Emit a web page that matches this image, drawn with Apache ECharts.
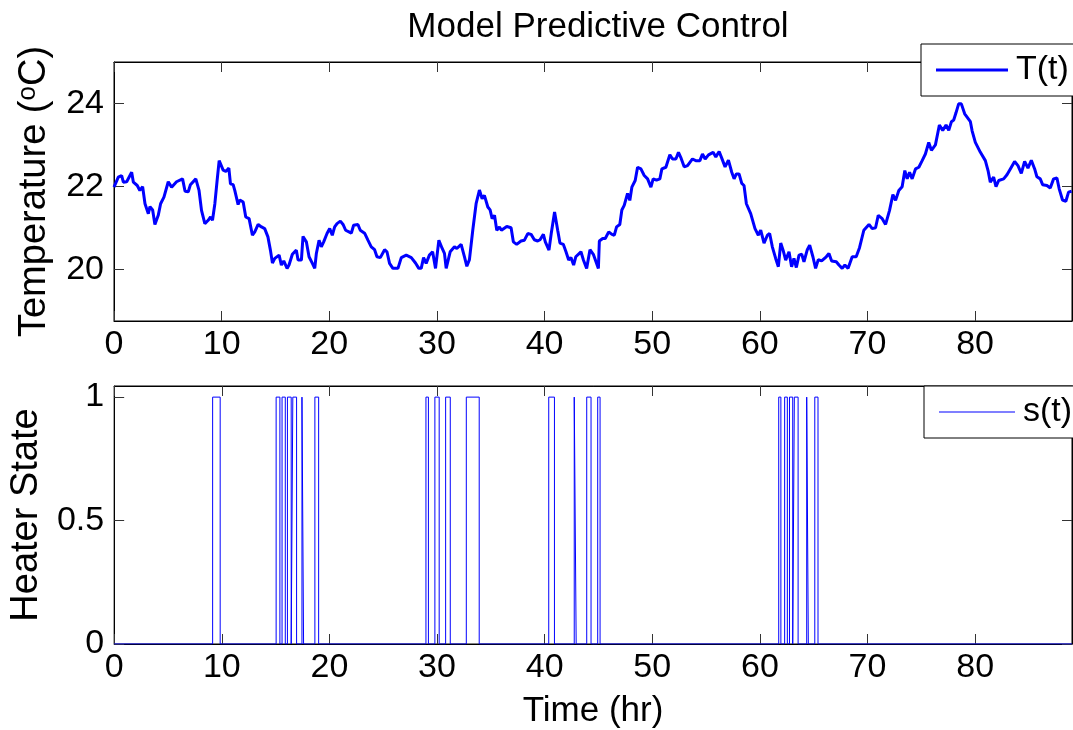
<!DOCTYPE html>
<html>
<head>
<meta charset="utf-8">
<title>Model Predictive Control</title>
<script src="https://cdn.jsdelivr.net/npm/echarts@6/dist/echarts.min.js"></script>
<style>
    html, body { margin: 0; padding: 0; background: #fff; }
    #chart-container { width: 1073px; height: 730px; }
</style>
</head>
<body>
<div id="chart-container"></div>
<script>
// temperature trace T(t), hours / deg C
const tempTime = [
    0, 0.4, 0.71, 0.87, 1.18, 1.64, 1.8, 2.16, 2.4, 2.66, 2.88, 3.19, 3.34, 3.59, 3.8, 4.11, 4.33, 4.64, 5.04, 5.35,
    5.81, 6.37, 6.6, 6.9, 7.1, 7.6, 7.9, 8.13, 8.44, 8.75, 8.97, 9.15, 9.37, 9.58, 9.77, 10.14, 10.39, 10.67, 10.82, 11.07,
    11.22, 11.53, 11.69, 12.0, 12.24, 12.55, 12.86, 13.08, 13.39, 13.7, 14.0, 14.3, 14.53, 14.72, 14.94, 15.09, 15.34, 15.55, 15.77, 16.08,
    16.26, 16.57, 16.94, 17.1, 17.41, 17.56, 17.87, 18.12, 18.43, 18.65, 18.8, 19.05, 19.26, 19.48, 19.79, 20.04, 20.28, 20.5, 20.72, 21.03,
    21.28, 21.52, 21.83, 22.05, 22.26, 22.66, 22.88, 23.28, 23.59, 23.9, 24.21, 24.43, 24.74, 24.92, 25.14, 25.36, 25.6, 25.91, 26.38, 26.69,
    27.15, 27.62, 28.01, 28.32, 28.54, 28.76, 29.0, 29.3, 29.6, 29.87, 30.18, 30.49, 30.7, 30.86, 31.23, 31.63, 31.85, 32.25, 32.56, 32.78,
    33.02, 33.33, 33.64, 33.95, 34.2, 34.41, 34.73, 34.94, 35.13, 35.35, 35.56, 35.81, 35.99, 36.49, 36.89, 37.1, 37.41, 37.81, 38.13, 38.44,
    38.75, 39.05, 39.36, 39.58, 39.89, 40.07, 40.41, 40.62, 40.93, 41.22, 41.43, 41.74, 41.99, 42.24, 42.45, 42.7, 42.9, 43.38, 43.6, 43.91,
    44.22, 44.53, 45.0, 45.09, 45.4, 45.64, 45.96, 46.26, 46.48, 46.69, 46.99, 47.18, 47.4, 47.71, 47.92, 48.11, 48.42, 48.64, 48.95, 49.26,
    49.57, 49.88, 50.09, 50.4, 50.71, 50.9, 51.27, 51.64, 51.89, 52.2, 52.44, 52.65, 52.97, 53.28, 53.74, 54.05, 54.43, 54.67, 54.92, 55.23,
    55.66, 55.91, 56.22, 56.46, 56.77, 57.08, 57.39, 57.61, 57.82, 58.07, 58.32, 58.53, 58.75, 59.15, 59.55, 59.86, 60.08, 60.39, 60.7, 60.91,
    61.16, 61.47, 61.72, 61.94, 62.16, 62.4, 62.71, 62.95, 63.17, 63.39, 63.64, 63.89, 64.1, 64.41, 64.63, 64.93, 65.18, 65.43, 65.74, 66.17,
    66.42, 66.67, 67.1, 67.35, 67.65, 67.9, 68.2, 68.58, 68.95, 69.26, 69.66, 70.14, 70.44, 70.75, 71.0, 71.37, 71.68, 72.05, 72.36, 72.61,
    72.91, 73.22, 73.47, 73.69, 73.91, 74.15, 74.46, 74.77, 75.08, 75.38, 75.69, 75.94, 76.31, 76.68, 76.99, 77.3, 77.55, 77.8, 78.01, 78.23,
    78.47, 78.72, 79.03, 79.56, 79.72, 80.02, 80.49, 80.95, 81.2, 81.41, 81.72, 81.94, 82.19, 82.65, 82.96, 83.27, 83.67, 83.98, 84.29, 84.6,
    84.91, 85.22, 85.53, 85.74, 86.05, 86.27, 86.67, 86.98, 87.29, 87.6, 87.81, 88.12, 88.43, 88.68, 88.96
];
const tempValue = [
    21.98, 22.22, 22.26, 22.1, 22.11, 22.34, 22.1, 22.02, 21.9, 21.99, 21.58, 21.34, 21.51, 21.43, 21.08, 21.3, 21.58, 21.74, 22.11, 21.98,
    22.11, 22.18, 21.88, 21.87, 22.04, 22.18, 21.9, 21.42, 21.1, 21.18, 21.26, 21.18, 21.58, 22.14, 22.62, 22.39, 22.36, 22.44, 22.06, 22.04,
    21.9, 21.56, 21.67, 21.62, 21.26, 21.22, 20.82, 20.9, 21.08, 21.02, 20.98, 20.78, 20.46, 20.15, 20.26, 20.22, 20.34, 20.1, 20.2, 20.02,
    20.1, 20.36, 20.46, 20.22, 20.22, 20.79, 20.66, 20.3, 20.14, 20.02, 20.38, 20.7, 20.54, 20.66, 20.86, 20.98, 20.82, 21.02, 21.1, 21.16,
    21.08, 20.94, 20.9, 20.87, 21.06, 21.08, 20.94, 20.87, 20.7, 20.54, 20.47, 20.3, 20.28, 20.26, 20.47, 20.42, 20.14, 20.02, 20.02, 20.28,
    20.34, 20.28, 20.15, 20.02, 20.02, 20.28, 20.14, 20.34, 20.42, 20.02, 20.7, 20.5, 20.38, 20.02, 20.42, 20.54, 20.5, 20.6, 20.3, 20.07,
    20.23, 20.94, 21.58, 21.91, 21.7, 21.78, 21.5, 21.43, 21.22, 21.3, 20.94, 21.02, 20.94, 21.03, 21.0, 20.66, 20.6, 20.68, 20.7, 20.86,
    20.84, 20.71, 20.68, 20.71, 20.84, 20.66, 20.46, 20.86, 21.38, 20.94, 20.63, 20.6, 20.42, 20.22, 20.28, 20.1, 20.3, 20.42, 20.23, 20.02,
    20.47, 20.36, 20.02, 20.68, 20.74, 20.74, 20.9, 20.84, 20.82, 21.02, 21.08, 21.43, 21.54, 21.83, 21.66, 21.98, 22.14, 22.46, 22.42, 22.26,
    22.18, 21.98, 22.18, 22.15, 22.18, 22.42, 22.46, 22.76, 22.66, 22.66, 22.82, 22.7, 22.47, 22.5, 22.66, 22.62, 22.62, 22.78, 22.66, 22.76,
    22.82, 22.71, 22.84, 22.68, 22.47, 22.63, 22.34, 22.18, 22.3, 22.3, 22.07, 22.02, 21.58, 21.34, 20.98, 20.82, 20.94, 20.63, 20.82, 20.86,
    20.54, 20.26, 20.06, 20.63, 20.46, 20.22, 20.42, 20.06, 20.26, 20.04, 20.34, 20.36, 20.18, 20.47, 20.58, 20.3, 20.02, 20.23, 20.2, 20.3,
    20.38, 20.2, 20.18, 20.1, 20.02, 20.1, 20.02, 20.3, 20.3, 20.52, 20.94, 21.08, 20.98, 21.0, 21.3, 21.22, 21.08, 21.42, 21.8, 21.66,
    21.9, 21.99, 22.38, 22.18, 22.34, 22.18, 22.42, 22.46, 22.62, 22.78, 23.06, 22.87, 23.0, 23.48, 23.35, 23.48, 23.35, 23.56, 23.6, 23.78,
    23.99, 23.99, 23.75, 23.56, 23.34, 23.06, 22.82, 22.62, 22.38, 22.1, 22.22, 21.99, 22.14, 22.18, 22.28, 22.42, 22.6, 22.5, 22.31, 22.6,
    22.44, 22.63, 22.42, 22.23, 22.18, 22.04, 22.02, 21.96, 22.18, 22.2, 21.94, 21.67, 21.64, 21.86, 21.88
];

// heater switching s(t): switch time and the state from that time on
const heaterTime = [
    0, 9.15, 9.85,
    15.05, 15.4, 15.6, 15.9, 16.1, 16.45, 16.6, 16.95, 17.45, 17.6, 18.65, 19.0,
    28.97, 29.2, 29.8, 30.2, 30.8, 31.23, 32.72, 33.92,
    40.38, 40.91, 42.75, 42.93, 43.91, 44.31, 44.93, 45.15,
    61.75, 61.95, 62.3, 62.55, 62.75, 63.05, 63.2, 63.55, 64.35, 64.5, 65.1, 65.4,
    89
];
const heaterState = [
    0, 1, 0,
    1, 0, 1, 0, 1, 0, 1, 0, 1, 0, 1, 0,
    1, 0, 1, 0, 1, 0, 1, 0,
    1, 0, 1, 0, 1, 0, 1, 0,
    1, 0, 1, 0, 1, 0, 1, 0, 1, 0, 1, 0,
    0
];

// tick labels
const timeTicks = [0, 10, 20, 30, 40, 50, 60, 70, 80];
const tempTicks = [20, 22, 24];
const stateTicks = [0, 0.5, 1];

const FONT = "'Liberation Sans', Arial, sans-serif";
const TICK_SIZE = 34;
const LABEL_SIZE = 38;

const chart = echarts.init(document.getElementById('chart-container'));

// 一個座標軸的共用樣式
const makeAxis = (extra) => Object.assign({
    axisLine: { show: true, onZero: false, lineStyle: { color: '#000', width: 1 } },
    splitLine: { show: false }
}, extra);

const xAxisFor = (grid, pos, withLabels, name) => makeAxis({
    type: 'value', gridIndex: grid, position: pos, min: 0, max: 89,
    name: name || '',
    nameLocation: 'middle',
    nameGap: 50,
    nameTextStyle: { color: '#000', fontSize: 35, fontFamily: FONT },
    axisTick: { show: true, inside: true, length: 10, customValues: timeTicks, lineStyle: { color: '#333' } },
    axisLabel: { show: withLabels, customValues: timeTicks, color: '#000', fontSize: TICK_SIZE, fontFamily: FONT, margin: 7 }
});

const yAxisFor = (grid, pos, min, max, ticks, withLabels, name, nameGap) => makeAxis({
    type: 'value', gridIndex: grid, position: pos, min: min, max: max,
    name: name || '',
    nameLocation: 'middle',
    nameGap: nameGap || 0,
    nameRotate: 90,
    nameTextStyle: {
        color: '#000', fontSize: LABEL_SIZE, fontFamily: FONT,
        rich: {
            a: { fontSize: LABEL_SIZE, fontFamily: FONT, color: '#000' },
            sup: { fontSize: 26, fontFamily: FONT, color: '#000', verticalAlign: 'top', padding: [0, 0, 14, 0] }
        }
    },
    axisTick: { show: true, inside: true, length: 10, customValues: ticks, lineStyle: { color: '#333' } },
    axisLabel: { show: withLabels, customValues: ticks, color: '#000', fontSize: TICK_SIZE, fontFamily: FONT, margin: 10 }
});

const tempData = tempTime.map((t, i) => [t, tempValue[i]]);
const heaterData = heaterTime.map((t, i) => [t, heaterState[i]]);

const legendBox = (name, left, top, width, lineHeight) => ({
    data: [name],
    left: left, top: top,
    padding: [9, 30, 9, 15],
    icon: 'rect',
    itemWidth: width, itemHeight: lineHeight,
    backgroundColor: '#fff',
    borderColor: '#000', borderWidth: 1, borderRadius: 0,
    textStyle: { color: '#000', fontSize: TICK_SIZE, fontFamily: FONT, padding: [0, 0, 0, 3] },
    selectedMode: false
});

const option = {
    animation: false,
    backgroundColor: '#fff',
    textStyle: { fontFamily: FONT },
    title: {
        text: 'Model Predictive Control',
        left: 593,
        top: 5,
        textAlign: 'center',
        textStyle: { color: '#000', fontSize: 35, fontWeight: 'normal', fontFamily: FONT }
    },
    legend: [
        legendBox('T(t)', 921, 44, 72, 3),
        legendBox('s(t)', 924, 386, 76, 1)
    ],
    grid: [
        { left: 114, top: 62, width: 958, height: 259, show: true, borderColor: '#000', borderWidth: 1, backgroundColor: '#fff' },
        { left: 114, top: 386, width: 958, height: 259, show: true, borderColor: '#000', borderWidth: 1, backgroundColor: '#fff' }
    ],
    xAxis: [
        xAxisFor(0, 'bottom', true),
        xAxisFor(0, 'top', false),
        xAxisFor(1, 'bottom', true, 'Time (hr)'),
        xAxisFor(1, 'top', false)
    ],
    yAxis: [
        yAxisFor(0, 'left', 18.75, 25, tempTicks, true, '{a|Temperature (}{sup|o}{a|C)}', 59),
        yAxisFor(0, 'right', 18.75, 25, tempTicks, false),
        yAxisFor(1, 'left', 0, 1.045, stateTicks, true, 'Heater State', 67),
        yAxisFor(1, 'right', 0, 1.045, stateTicks, false)
    ],
    series: [
        {
            name: 'T(t)',
            type: 'line',
            xAxisIndex: 0,
            yAxisIndex: 0,
            data: tempData,
            showSymbol: false,
            symbol: 'none',
            color: '#0000ff',
            lineStyle: { color: '#0000ff', width: 3 }
        },
        {
            name: 's(t)',
            type: 'line',
            xAxisIndex: 2,
            yAxisIndex: 2,
            data: heaterData,
            step: 'end',
            showSymbol: false,
            symbol: 'none',
            color: '#0000ff',
            lineStyle: { color: '#0000ff', width: 1 }
        }
    ]
};

chart.setOption(option);
</script>
</body>
</html>
